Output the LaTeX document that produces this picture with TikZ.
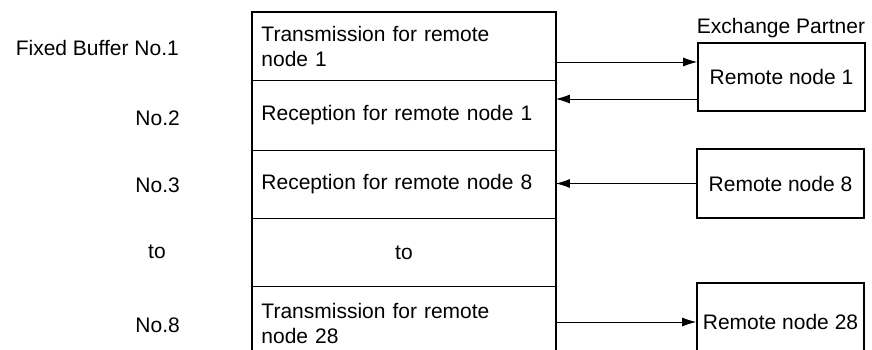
\documentclass[tikz,border=0pt]{standalone}
\usepackage{fontspec}
\setmainfont{Liberation Sans}
\usetikzlibrary{arrows.meta}
\begin{document}
\begin{tikzpicture}[x=1pt,y=-1pt,
  every node/.style={font=\fontsize{21}{25}\selectfont, inner sep=0pt},
  rowbox/.style={draw, line width=0.9pt, anchor=north west, minimum width=303pt,
    text width=285pt, inner xsep=9pt, align=left},
  outline/.style={line width=1.6pt},
  rbox/.style={draw, line width=1.6pt, minimum width=167pt},
  arr/.style={line width=0.9pt, -{Latex[length=14pt,width=9pt]}},
  lbl/.style={anchor=east}]
\useasboundingbox (0,0) rectangle (872,350);
\fill[white] (0,0) rectangle (872,350);
\clip (0,0) rectangle (872,350);

% buffer column
\node[rowbox, minimum height=68pt] (r1) at (252,12) {Transmission for remote\\node 1};
\node[rowbox, minimum height=70pt] (r2) at (252,80) {Reception for remote node 1};
\node[rowbox, minimum height=68pt] (r3) at (252,150) {Reception for remote node 8};
\node[rowbox, minimum height=68pt, align=center] (r4) at (252,218) {to};
\node[rowbox, minimum height=74pt] (r5) at (252,286) {Transmission for remote\\node 28};
\draw[outline] (r5.south west) -- (r1.north west) -- (r1.north east) -- (r5.south east);

% left labels
\node[lbl] (l1) at (179,48) {Fixed Buffer No.1};
\node[lbl] (l2) at (180,118) {No.2};
\node[lbl] (l3) at (180,185) {No.3};
\node (l4) at (157,252) {to};
\node[lbl] (l5) at (180,325) {No.8};

% remote nodes
\node (ep) at (781,28) {Exchange Partner};
\node[rbox, minimum height=68pt] (n1) at (781.5,77) {Remote node 1};
\node[rbox, minimum height=69pt] (n8) at (780.5,183.5) {Remote node 8};
\node[rbox, minimum height=78pt] (n28) at (780.5,322) {Remote node 28};

% connectors
\path ([yshift=15pt]n1.west) coordinate (n1a);
\path ([yshift=-22pt]n1.west) coordinate (n1b);
\draw[arr] (n1a -| r1.east) -- (n1a);
\draw[arr] (n1b) -- (n1b -| r2.east);
\draw[arr] (n8.west) -- (n8.west -| r3.east);
\draw[arr] (n28.west -| r5.east) -- (n28.west);
\end{tikzpicture}
\end{document}
